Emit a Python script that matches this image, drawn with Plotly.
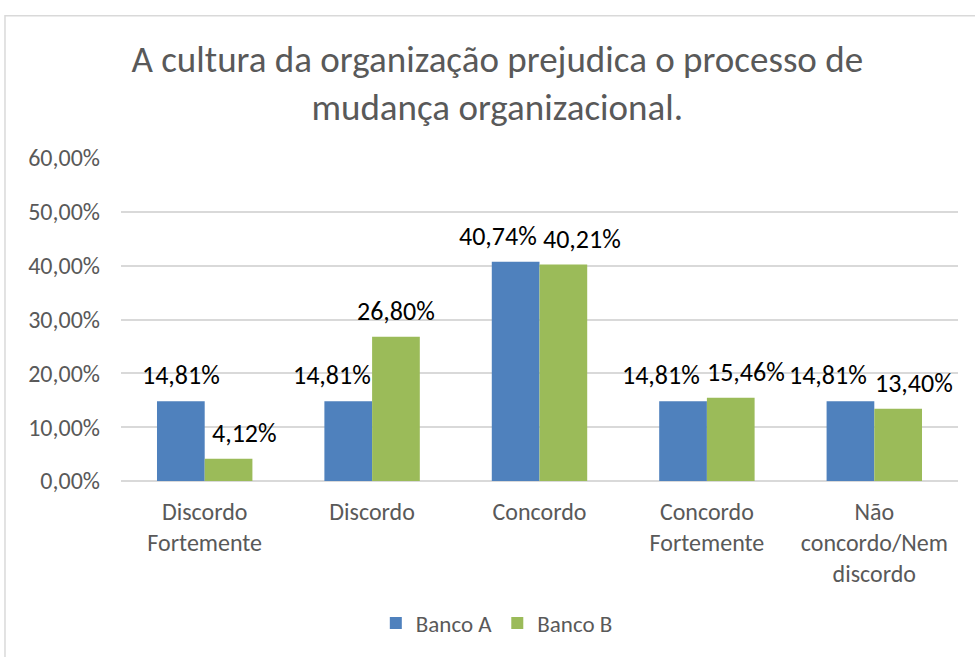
import plotly.graph_objects as go

CATEGORIES = [
    "Discordo<br>Fortemente",
    "Discordo",
    "Concordo",
    "Concordo<br>Fortemente",
    "Não<br>concordo/Nem<br>discordo",
]
BANCO_A = [0.1481, 0.1481, 0.4074, 0.1481, 0.1481]
BANCO_B = [0.0412, 0.2680, 0.4021, 0.1546, 0.1340]

BLUE = "#4F81BD"
GREEN = "#9BBB59"
GRAY_TEXT = "#595959"
GRID = "#D9D9D9"
FONT = "Carlito, Calibri, 'Open Sans', sans-serif"

# Excel pushes colliding data labels apart sideways; mimic with pixel nudges.
NUDGE_A = [0, -16, -18, -22, -22]
NUDGE_B = [16, 0, 18, 15, 16]
BAR_HALF = 24  # pixel offset from category centre to each bar's centre


def pct(v: float) -> str:
    return f"{v * 100:.2f}%".replace(".", ",")


fig = go.Figure()
for name, values, color in (("Banco A", BANCO_A, BLUE), ("Banco B", BANCO_B, GREEN)):
    fig.add_trace(
        go.Bar(
            x=CATEGORIES,
            y=values,
            name=name,
            marker_color=color,
            marker_line_width=0,
        )
    )

annotations = []
for values, nudges, side in ((BANCO_A, NUDGE_A, -1), (BANCO_B, NUDGE_B, 1)):
    for cat, v, dx in zip(CATEGORIES, values, nudges):
        annotations.append(
            dict(
                x=cat, y=v, xref="x", yref="y",
                text=pct(v), showarrow=False,
                xanchor="center", yanchor="middle",
                xshift=side * BAR_HALF + dx, yshift=26,
                font=dict(size=26, color="#000000", family=FONT),
            )
        )

fig.update_layout(
    width=975,
    height=657,
    separators=",.",
    barmode="group",
    bargap=0.43,
    bargroupgap=0,
    paper_bgcolor="white",
    plot_bgcolor="white",
    font=dict(family=FONT, color=GRAY_TEXT, size=24),
    margin=dict(l=121, r=17, t=158, b=167),
    title=dict(
        text="A cultura da organização prejudica o processo de<br>mudança organizacional.",
        x=0.51,
        xanchor="center",
        y=0.89,
        yanchor="middle",
        font=dict(size=37, color=GRAY_TEXT, family=FONT),
    ),
    legend=dict(
        orientation="h",
        x=0.449,
        xanchor="center",
        y=-0.44,
        yanchor="middle",
        font=dict(size=23, color=GRAY_TEXT),
        itemwidth=30,
    ),
    annotations=annotations,
    shapes=[
        dict(
            type="rect", xref="paper", yref="paper",
            x0=-0.1386, x1=1.2, y0=-0.8, y1=1.4404,
            line=dict(color="#D9D9D9", width=1.5), fillcolor="rgba(0,0,0,0)",
            layer="below",
        )
    ],
)
fig.update_yaxes(
    range=[0, 0.6],
    dtick=0.1,
    tickformat=".2%",
    gridcolor=GRID,
    gridwidth=1.5,
    zeroline=True,
    zerolinecolor=GRID,
    zerolinewidth=1.5,
    showline=False,
    ticks="",
    ticklabelstandoff=20,
    tickfont=dict(size=24, color=GRAY_TEXT),
)
fig.update_xaxes(
    showline=False,
    ticks="",
    ticklabelstandoff=14,
    tickfont=dict(size=24, color=GRAY_TEXT),
)

fig.write_html(
    "out.html",
    config={"displayModeBar": False},
    post_script="document.body.style.margin='0';",
)
